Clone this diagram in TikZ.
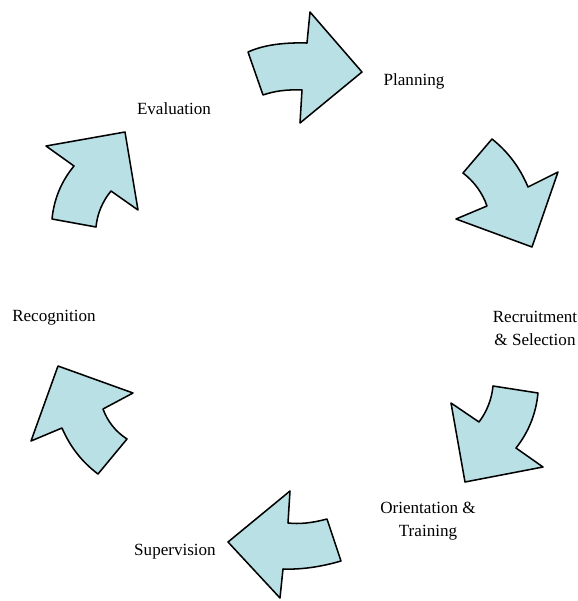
\documentclass[tikz,border=0pt]{standalone}
\usepackage{fontspec}
\setmainfont{Liberation Serif}
\usepackage{tikz}

\definecolor{arrowfill}{RGB}{185,224,228}

\begin{document}
\begin{tikzpicture}[x=0.75pt,y=-0.75pt,
	cyclearrow/.style={draw=black,fill=arrowfill,line width=1.15pt,line join=round},
	steplabel/.style={font=\fontsize{12.8}{17.2}\selectfont,align=center,inner sep=0pt}]
	% canvas
	\useasboundingbox (0,0) rectangle (578,601);
	
	% arrows of the cycle
	\draw [cyclearrow] (248,52) .. controls (262.7,45.3) and (282.3,42.3) .. (307,43) -- (310,12) -- (362,72)
		-- (300,123) -- (302,90) .. controls (287.3,89.3) and (274.3,91) .. (263,95) -- cycle;
	\draw [cyclearrow] (492,139) .. controls (508,151.7) and (520,167.7) .. (528,187) -- (558,172) -- (532,247)
		-- (456,219) -- (487,206) .. controls (482.3,192.7) and (474.3,181.7) .. (463,173) -- cycle;
	\draw [cyclearrow] (493,386) -- (538,393) .. controls (536,413.7) and (528.7,432) .. (516,448) -- (543,467)
		-- (465,482) -- (451,403) -- (479,422) .. controls (487,411.3) and (491.7,399.3) .. cycle;
	\draw [cyclearrow] (290,491) -- (288,523) .. controls (299.3,524.3) and (312.3,523) .. (327,519) -- (341,561)
		.. controls (320.3,567) and (301,569.7) .. (283,569) -- (280,598) -- (228,542) -- cycle;
	\draw [cyclearrow] (58,366) -- (133,393) -- (103,409) .. controls (107.7,421.7) and (115.7,431.7) .. (127,439)
		-- (98,474) .. controls (82,462) and (70,446.7) .. (62,428) -- (31,441) -- cycle;
	\draw [cyclearrow] (46,146) -- (125,132) -- (138,210) -- (111,191) .. controls (102.3,201.7) and (97.3,213.7) .. (96,227)
		-- (52,219) .. controls (54,199) and (61.3,181.3) .. (74,166) -- cycle;
	
	% labels
	\node [steplabel] (plan) at (414,81) {Planning};
	\node [steplabel] (recr) at (535,328) {Recruitment\\\& Selection};
	\node [steplabel] (orie) at (428,521) {Orientation \&\\Training};
	\node [steplabel] (supv) at (175,552) {Supervision};
	\node [steplabel] (reco) at (54,318) {Recognition};
	\node [steplabel] (eval) at (174,109) {Evaluation};
\end{tikzpicture}
\end{document}
